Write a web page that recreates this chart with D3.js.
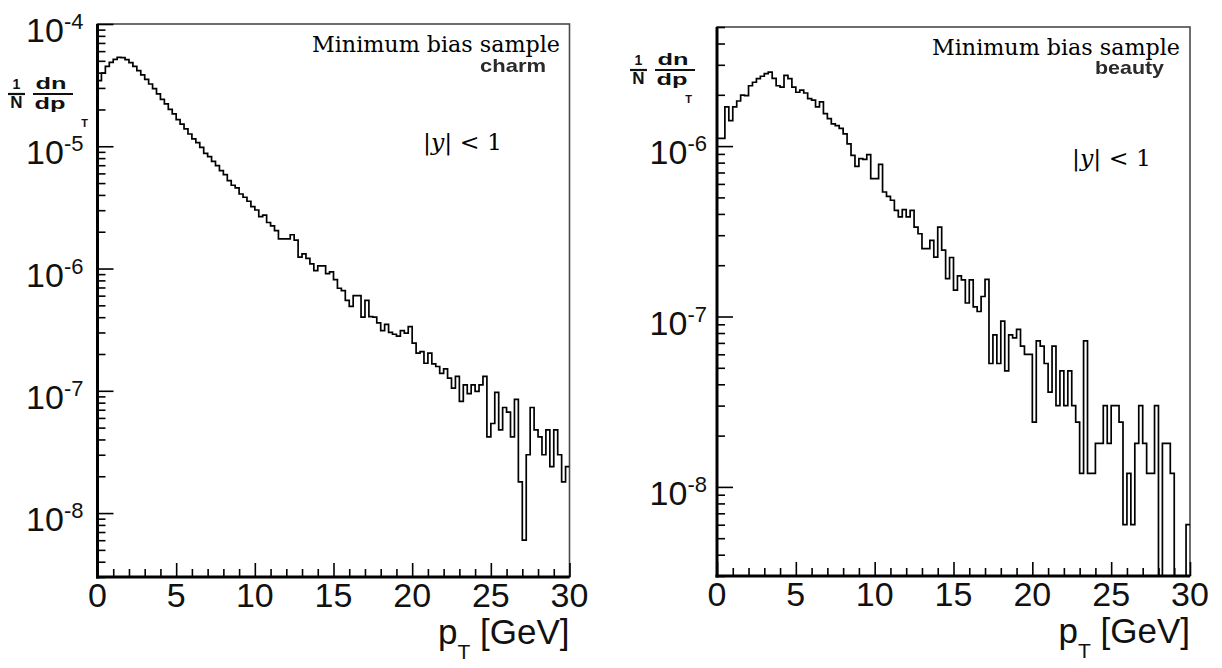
<!DOCTYPE html>
<html>
<head>
<meta charset="utf-8">
<script src="https://cdn.jsdelivr.net/npm/d3@7"></script>
<style>
  body { margin: 0; background: #fff; }
  svg { display: block; }
</style>
</head>
<body>
<svg id="board" width="1222" height="668"></svg>
<script>
// histogram bins are 0.25 GeV wide, 0 - 30 GeV
const binWidth = 0.25;
const xTicks = [0, 5, 10, 15, 20, 25, 30];
const charmDecades = [-8, -7, -6, -5, -4];
const beautyDecades = [-8, -7, -6];

// 1/N dn/dpT, read bin by bin off the picture
const charmValues = [
    3.44e-5, 3.97e-5, 4.51e-5, 4.86e-5, 5.14e-5, 5.34e-5, 5.31e-5, 5.11e-5, 4.83e-5, 4.51e-5,
    4.15e-5, 3.83e-5, 3.53e-5, 3.23e-5, 2.96e-5, 2.68e-5, 2.42e-5, 2.22e-5, 2.00e-5, 1.84e-5,
    1.65e-5, 1.52e-5, 1.39e-5, 1.26e-5, 1.15e-5, 1.07e-5, 9.8e-6, 8.76e-6, 8.22e-6, 7.53e-6,
    6.95e-6, 6.32e-6, 5.86e-6, 5.24e-6, 4.80e-6, 4.56e-6, 4.07e-6, 3.83e-6, 3.55e-6, 3.21e-6,
    3.01e-6, 2.66e-6, 2.73e-6, 2.38e-6, 2.23e-6, 2.04e-6, 1.75e-6, 1.75e-6, 1.75e-6, 1.89e-6,
    1.71e-6, 1.24e-6, 1.32e-6, 1.21e-6, 1.09e-6, 9.6e-7, 1.05e-6, 1.05e-6, 9.1e-7, 9.4e-7,
    8.1e-7, 6.9e-7, 6.6e-7, 5.5e-7, 4.9e-7, 6.0e-7, 6.0e-7, 4.0e-7, 5.5e-7, 4.05e-7,
    4.0e-7, 3.6e-7, 3.1e-7, 3.5e-7, 3.0e-7, 2.9e-7, 2.8e-7, 3.1e-7, 2.96e-7, 3.35e-7,
    2.45e-7, 2.03e-7, 2.09e-7, 1.68e-7, 2.03e-7, 1.66e-7, 1.58e-7, 1.39e-7, 1.51e-7, 1.27e-7,
    1.05e-7, 1.31e-7, 8.2e-8, 1.12e-7, 9.5e-8, 1.12e-7, 9.9e-8, 1.12e-7, 1.31e-7, 4.2e-8,
    5.4e-8, 9.7e-8, 4.8e-8, 7.3e-8, 6.7e-8, 4.2e-8, 8.5e-8, 1.8e-8, 6.0e-9, 3.0e-8,
    7.3e-8, 4.8e-8, 4.2e-8, 3.0e-8, 4.8e-8, 2.4e-8, 4.8e-8, 3.0e-8, 1.8e-8, 2.4e-8
];

const beautyValues = [
    1.11e-6, 1.11e-6, 1.70e-6, 1.41e-6, 1.70e-6, 1.84e-6, 1.99e-6, 1.98e-6, 2.26e-6, 2.37e-6,
    2.49e-6, 2.57e-6, 2.66e-6, 2.72e-6, 2.50e-6, 2.26e-6, 2.22e-6, 2.60e-6, 2.49e-6, 2.22e-6,
    2.07e-6, 2.13e-6, 2.05e-6, 1.90e-6, 1.86e-6, 1.70e-6, 1.82e-6, 1.55e-6, 1.45e-6, 1.35e-6,
    1.32e-6, 1.27e-6, 1.18e-6, 1.03e-6, 8.83e-7, 7.61e-7, 8.44e-7, 8.36e-7, 8.91e-7, 6.44e-7,
    6.44e-7, 7.82e-7, 5.38e-7, 5.07e-7, 4.81e-7, 4.20e-7, 3.84e-7, 4.24e-7, 3.84e-7, 4.20e-7,
    3.35e-7, 3.06e-7, 2.50e-7, 2.50e-7, 2.80e-7, 2.23e-7, 3.35e-7, 2.45e-7, 1.67e-7, 2.22e-7,
    1.43e-7, 1.73e-7, 1.64e-7, 1.20e-7, 1.64e-7, 1.14e-7, 1.07e-7, 1.31e-7, 1.65e-7, 5.3e-8,
    7.8e-8, 5.3e-8, 9.4e-8, 4.8e-8, 7.8e-8, 7.5e-8, 8.4e-8, 6.7e-8, 6.0e-8, 6.0e-8,
    2.4e-8, 7.2e-8, 6.7e-8, 5.3e-8, 3.6e-8, 6.7e-8, 3.0e-8, 4.8e-8, 3.0e-8, 4.8e-8,
    3.0e-8, 2.4e-8, 1.2e-8, 7.2e-8, 1.2e-8, 1.2e-8, 1.8e-8, 1.8e-8, 3.0e-8, 1.8e-8,
    3.0e-8, 3.0e-8, 2.4e-8, 6.0e-9, 1.2e-8, 6.0e-9, 1.8e-8, 3.0e-8, 1.8e-8, 1.2e-8,
    1.2e-8, 3.0e-8, 0, 1.8e-8, 1.8e-8, 1.2e-8, 0, 0, 0, 6.0e-9
];

const svg = d3.select("#board");
svg.append("rect").attr("width", 1222).attr("height", 668).attr("fill", "#fff");

const defs = svg.append("defs");
defs.append("filter").attr("id", "soft")
    .append("feGaussianBlur").attr("stdDeviation", 0.55);

const sansFont = "'Liberation Sans', Arial, Helvetica, sans-serif";
const serifFont = "'DejaVu Serif', 'Liberation Serif', serif";

function isDecade(t) {
    const l = Math.log10(t);
    return Math.abs(l - Math.round(l)) < 1e-6;
}

function drawPanel(p) {
    const g = svg.append("g").attr("class", "panel-" + p.name);

    const x = d3.scaleLinear().domain([0, 30]).range([p.left, p.right]);
    const y = d3.scaleLog().domain(p.yDomain).range([p.bottom, p.top]);

    defs.append("clipPath").attr("id", "clip-" + p.name)
        .append("rect")
        .attr("x", p.left).attr("y", p.top)
        .attr("width", p.right - p.left).attr("height", p.bottom - p.top);

    // thin frame (top / right)
    g.append("rect")
        .attr("x", p.left).attr("y", p.top)
        .attr("width", p.right - p.left).attr("height", p.bottom - p.top)
        .attr("fill", "none").attr("stroke", "#4a4a4a").attr("stroke-width", 1.6);

    // histogram outline
    const pts = p.values.map((v, i) => [i * binWidth, v]);
    pts.push([30, p.values[p.values.length - 1]]);
    const line = d3.line()
        .x(d => x(d[0]))
        .y(d => y(Math.max(d[1], p.yDomain[0])))
        .curve(d3.curveStepAfter);
    g.append("path")
        .datum(pts)
        .attr("clip-path", "url(#clip-" + p.name + ")")
        .attr("d", line)
        .attr("fill", "none")
        .attr("stroke", "#000")
        .attr("stroke-width", 1.7);

    // y axis ticks (inward)
    const allY = y.ticks();
    const majorY = allY.filter(isDecade);
    const minorY = allY.filter(t => !isDecade(t));
    const yMinor = g.append("g").attr("transform", `translate(${p.left},0)`)
        .call(d3.axisLeft(y).tickValues(minorY).tickSize(-8).tickFormat(""));
    const yMajor = g.append("g").attr("transform", `translate(${p.left},0)`)
        .call(d3.axisLeft(y).tickValues(majorY).tickSize(-16).tickFormat(""));

    // x axis ticks (inward)
    const minorX = d3.range(0, 31).filter(v => v % 5 !== 0);
    const xMinor = g.append("g").attr("transform", `translate(0,${p.bottom})`)
        .call(d3.axisBottom(x).tickValues(minorX).tickSize(-8).tickFormat(""));
    const xMajor = g.append("g").attr("transform", `translate(0,${p.bottom})`)
        .call(d3.axisBottom(x).tickValues(xTicks).tickSize(-14).tickFormat(""));

    [yMinor, yMajor, xMinor, xMajor].forEach(a => {
        a.select(".domain").remove();
        a.selectAll(".tick line").attr("stroke", "#000").attr("stroke-width", 1.6);
    });

    // heavy axis lines
    g.append("line")
        .attr("x1", p.left).attr("x2", p.left)
        .attr("y1", p.top).attr("y2", p.bottom + 1.5)
        .attr("stroke", "#000").attr("stroke-width", 3);
    g.append("line")
        .attr("x1", p.left - 1.5).attr("x2", p.right)
        .attr("y1", p.bottom).attr("y2", p.bottom)
        .attr("stroke", "#000").attr("stroke-width", 3);

    // y labels 10^n
    p.decades.forEach(e => {
        const t = g.append("text")
            .attr("x", p.left - p.labelGap)
            .attr("y", y(Math.pow(10, e)) + 18)
            .attr("text-anchor", "end")
            .attr("font-family", sansFont)
            .attr("font-size", 34)
            .attr("fill", "#111");
        t.append("tspan").text("10");
        t.append("tspan").attr("font-size", 22).attr("dy", -13).text("-" + Math.abs(e));
    });

    // x labels
    xTicks.forEach(v => {
        g.append("text")
            .attr("x", x(v))
            .attr("y", p.bottom + 30)
            .attr("text-anchor", "middle")
            .attr("font-family", sansFont)
            .attr("font-size", 34)
            .attr("fill", "#111")
            .text(v);
    });

    // x title  p_T [GeV]
    const xt = g.append("text")
        .attr("x", p.right)
        .attr("y", p.bottom + 67)
        .attr("text-anchor", "end")
        .attr("font-family", sansFont)
        .attr("font-size", 35)
        .attr("fill", "#111");
    xt.append("tspan").text("p");
    xt.append("tspan").attr("font-size", 21).attr("dy", 15).text("T");
    xt.append("tspan").attr("dy", -15).text("\u00a0[GeV]");

    // y title  1/N dn/dp_T
    const yt = g.append("g")
        .attr("font-family", sansFont)
        .attr("font-weight", "bold")
        .attr("font-size", 17)
        .attr("fill", "#111")
        .attr("text-anchor", "middle");
    const bx = p.titleX, by = p.titleY;
    yt.append("text").attr("x", bx + 8.5).attr("y", by - 5).attr("font-size", 14).text("1");
    yt.append("text").attr("x", bx + 8.5).attr("y", by + 14).text("N");
    yt.append("line").attr("x1", bx).attr("x2", bx + 17).attr("y1", by).attr("y2", by)
        .attr("stroke", "#111").attr("stroke-width", 2.2);
    yt.append("text").attr("x", bx + 43).attr("y", by - 5)
        .attr("textLength", 31).attr("lengthAdjust", "spacingAndGlyphs").text("dn");
    yt.append("text").attr("x", bx + 42).attr("y", by + 15)
        .attr("textLength", 31).attr("lengthAdjust", "spacingAndGlyphs").text("dp");
    yt.append("line").attr("x1", bx + 25).attr("x2", bx + 65).attr("y1", by).attr("y2", by)
        .attr("stroke", "#111").attr("stroke-width", 2.2);
    yt.append("text").attr("x", bx + p.subX).attr("y", by + 33).attr("font-size", 11).text("T");

    // annotations
    g.append("text")
        .attr("x", p.noteX).attr("y", p.noteY)
        .attr("font-family", serifFont)
        .attr("font-size", 22)
        .attr("textLength", 248)
        .attr("lengthAdjust", "spacingAndGlyphs")
        .attr("fill", "#000")
        .text("Minimum bias sample");
    g.append("text")
        .attr("x", p.tagX).attr("y", p.tagY)
        .attr("font-family", sansFont)
        .attr("font-weight", "bold")
        .attr("font-size", 19)
        .attr("textLength", p.tagLen)
        .attr("lengthAdjust", "spacingAndGlyphs")
        .attr("fill", "#2a2a2a")
        .attr("filter", "url(#soft)")
        .text(p.tag);
    const cut = g.append("text")
        .attr("x", p.cutX).attr("y", p.cutY)
        .attr("font-family", serifFont)
        .attr("font-size", 22)
        .attr("textLength", 79)
        .attr("lengthAdjust", "spacingAndGlyphs")
        .attr("fill", "#000");
    cut.append("tspan").text("|");
    cut.append("tspan").attr("font-style", "italic").text("y");
    cut.append("tspan").text("| < 1");
}

drawPanel({
    name: "charm", values: charmValues, decades: charmDecades,
    left: 97.5, right: 569.5, top: 24, bottom: 577,
    yDomain: [3e-9, 1e-4], labelGap: 14,
    titleX: 8, titleY: 94, subX: 76.5,
    noteX: 312, noteY: 52, tag: "charm", tagX: 480, tagY: 72, tagLen: 66,
    cutX: 423, cutY: 150
});

drawPanel({
    name: "beauty", values: beautyValues, decades: beautyDecades,
    left: 717, right: 1190, top: 27, bottom: 576,
    yDomain: [3e-9, 5e-6], labelGap: 10,
    titleX: 630, titleY: 70, subX: 58.5,
    noteX: 932, noteY: 55, tag: "beauty", tagX: 1095, tagY: 74, tagLen: 69,
    cutX: 1072, cutY: 166
});
</script>
</body>
</html>
